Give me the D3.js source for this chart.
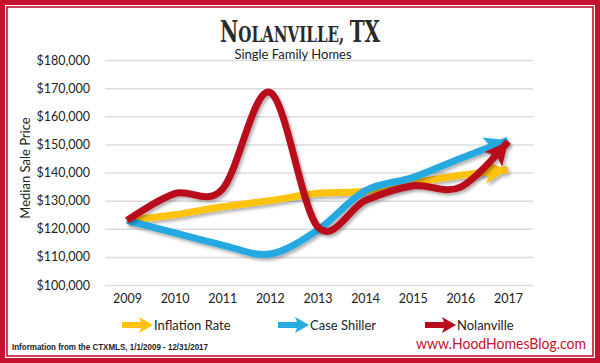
<!DOCTYPE html>
<html>
<head>
<meta charset="utf-8">
<script src="https://cdn.jsdelivr.net/npm/d3@7"></script>
<style>
  html, body { margin: 0; padding: 0; background: #fff; }
  svg { display: block; }
  text { font-family: "Lato", "Noto Sans", sans-serif; fill: #222; }
</style>
</head>
<body>
<svg id="chart" width="600" height="363"></svg>
<script>
const years = [2009, 2010, 2011, 2012, 2013, 2014, 2015, 2016, 2017];
const inflation = [123000, 125000, 127800, 130000, 132600, 133300, 136300, 139000, 141000];
const caseShiller = [123000, 118500, 114200, 111000, 119500, 133500, 138200, 145000, 151500];
const nolanville = [123000, 132500, 134000, 168500, 120800, 130000, 135300, 134800, 151000];
const yTicks = [100000, 110000, 120000, 130000, 140000, 150000, 160000, 170000, 180000];
const seriesNames = ["Inflation Rate", "Case Shiller", "Nolanville"];
const seriesColors = ["#FFC20E", "#27A9E1", "#BA0C1F"];
const seriesValues = [inflation, caseShiller, nolanville];
const titleParts = [["N", 29], ["OLANVILLE, ", 22], ["TX", 29]];

const svg = d3.select("#chart");
const W = 600, H = 363;
const red = "#C4122F";

// borders
svg.append("rect").attr("x", 2.5).attr("y", 2.5).attr("width", W - 5).attr("height", H - 5)
  .attr("fill", "none").attr("stroke", red).attr("stroke-width", 5);
svg.append("rect").attr("x", 7).attr("y", 7).attr("width", W - 14).attr("height", H - 14)
  .attr("fill", "none").attr("stroke", red).attr("stroke-width", 1.6);

const defs = svg.append("defs");
const f = defs.append("filter").attr("id", "shadow").attr("x", "-10%").attr("y", "-10%").attr("width", "130%").attr("height", "140%");
f.append("feDropShadow").attr("dx", 2).attr("dy", 2.5).attr("stdDeviation", 1.8)
  .attr("flood-color", "#000").attr("flood-opacity", 0.3);

seriesColors.forEach((c, i) => {
  defs.append("marker").attr("id", "arrow" + i)
    .attr("viewBox", "0 0 10 10").attr("refX", 10).attr("refY", 5)
    .attr("markerWidth", 3.3).attr("markerHeight", 3.3)
    .attr("orient", "auto").attr("markerUnits", "strokeWidth")
    .append("path").attr("d", "M0,0 L10,5 L0,10 L2.2,5 Z").attr("fill", c);
});

const x = d3.scalePoint().domain(years).range([127, 508]);
const y = d3.scaleLinear().domain([100000, 180000]).range([285, 60]);

// y axis with grid
const yAxis = d3.axisLeft(y).tickValues(yTicks).tickSize(-(533 - 105)).tickPadding(15)
  .tickFormat(d => "$" + d3.format(",")(d));
const gy = svg.append("g").attr("transform", "translate(105,0)").call(yAxis);
gy.select(".domain").remove();
gy.selectAll(".tick line").attr("stroke", "#DCDCDC").attr("stroke-width", 1.5);
gy.selectAll(".tick text").attr("font-size", 12.5).attr("fill", "#222").attr("x", -15)
  .style("font-family", "Lato, sans-serif");

// x axis
const xAxis = d3.axisBottom(x).tickSize(0).tickPadding(0).tickFormat(d => String(d));
const gx = svg.append("g").attr("transform", "translate(0,294)").call(xAxis);
gx.select(".domain").remove();
gx.selectAll(".tick text").attr("font-size", 12.5).attr("fill", "#222")
  .style("font-family", "Lato, sans-serif");

// y title
svg.append("text").attr("transform", "translate(30,168) rotate(-90)")
  .attr("text-anchor", "middle").attr("font-size", 13).text("Median Sale Price");

// lines
const line = d3.line().x((d, i) => x(years[i])).y(d => y(d)).curve(d3.curveCardinal.tension(0));
seriesValues.forEach((vals, i) => {
  svg.append("path").datum(vals).attr("d", line)
    .attr("fill", "none").attr("stroke", seriesColors[i]).attr("stroke-width", 7)
    .attr("stroke-linejoin", "round")
    .attr("marker-end", "url(#arrow" + i + ")")
    .attr("filter", "url(#shadow)");
});

// title: separate pieces laid out side by side, then squeezed to width
const tg = svg.append("g");
let cx = 0;
titleParts.forEach(([s, fs]) => {
  const t = tg.append("text").attr("x", cx).attr("y", 0).attr("font-size", fs)
    .attr("font-weight", "bold").attr("fill", "#2a2a2a").style("fill", "#2a2a2a")
    .style("font-family", "'DejaVu Serif Condensed', 'DejaVu Serif', serif")
    .style("white-space", "pre").text(s);
  cx += t.node().getComputedTextLength();
});
const sx = 160 / cx;
tg.attr("transform", `translate(220,42) scale(${sx},1)`);

svg.append("text").attr("x", 293).attr("y", 59).attr("text-anchor", "middle")
  .attr("font-size", 13).text("Single Family Homes");

// legend
const legendX = [122, 278, 425];
seriesNames.forEach((n, i) => {
  const lx = legendX[i], ly = 325;
  svg.append("path")
    .attr("d", `M${lx},${ly - 3} L${lx + 19},${ly - 3} L${lx + 17},${ly - 8} L${lx + 31},${ly} L${lx + 17},${ly + 8} L${lx + 19},${ly + 3} L${lx},${ly + 3} Z`)
    .attr("fill", seriesColors[i]);
  svg.append("text").attr("x", lx + 32).attr("y", ly + 4.5).attr("font-size", 13).text(n);
});

// footer
svg.append("text").attr("x", 12).attr("y", 350).attr("font-size", 8.5)
  .attr("font-weight", "bold").attr("fill", "#333")
  .style("font-family", "'Liberation Sans', sans-serif")
  .attr("textLength", 196).attr("lengthAdjust", "spacingAndGlyphs")
  .text("Information from the CTXMLS, 1/1/2009 - 12/31/2017");
svg.append("text").attr("x", 416).attr("y", 349).attr("font-size", 15)
  .attr("fill", red).style("fill", red)
  .attr("textLength", 170).attr("lengthAdjust", "spacingAndGlyphs")
  .text("www.HoodHomesBlog.com");
</script>
</body>
</html>
